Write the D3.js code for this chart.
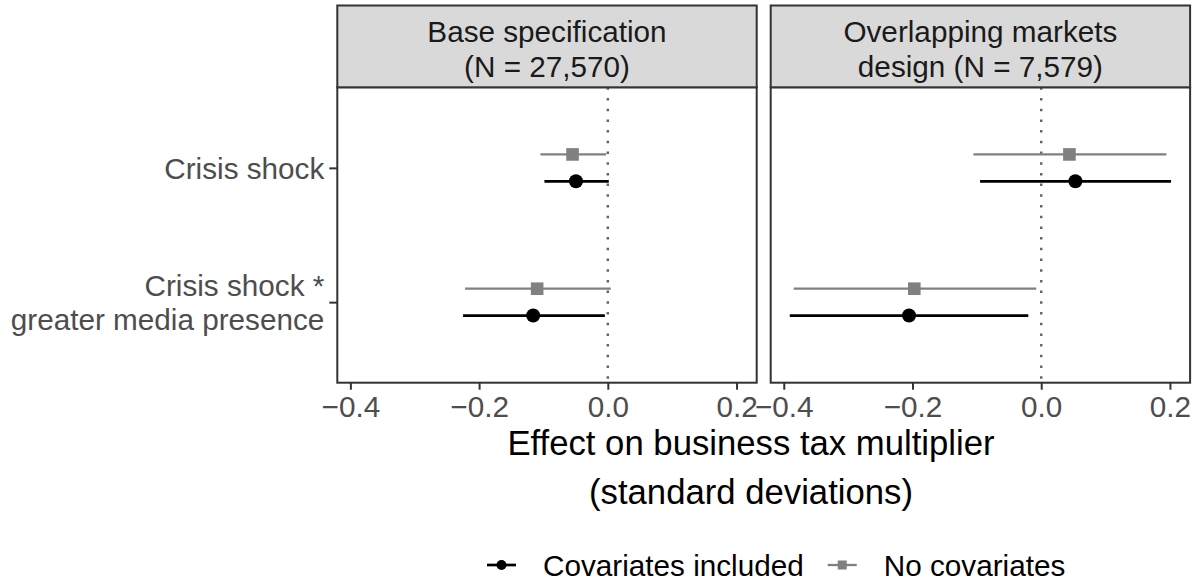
<!DOCTYPE html>
<html>
<head>
<meta charset="utf-8">
<script src="https://cdn.jsdelivr.net/npm/d3@7/dist/d3.min.js"></script>
<style>
  html, body { margin: 0; padding: 0; background: #ffffff; }
  svg { display: block; font-family: "Liberation Sans", Arial, sans-serif; }
</style>
</head>
<body>
<svg id="chart" width="1201" height="584"></svg>
<script>
// Facet panels and the coefficient rows shown in each
const panels = ["Base specification\n(N = 27,570)", "Overlapping markets\ndesign (N = 7,579)"];
const categories = ["Crisis shock", "Crisis shock *\ngreater media presence"];
const seriesNames = ["Covariates included", "No covariates"];

// Point estimates and interval bounds, indexed [panel][category]
const covEst = [[-0.0495, -0.1160], [0.0531, -0.2054]];
const covLo  = [[-0.0985, -0.2249], [-0.0950, -0.3907]];
const covHi  = [[0.0015, -0.0046], [0.2017, -0.0201]];
const noCovEst = [[-0.0548, -0.1098], [0.0438, -0.1972]];
const noCovLo  = [[-0.1047, -0.2218], [-0.1053, -0.3845]];
const noCovHi  = [[-0.0026, 0.0046], [0.1945, -0.0077]];

const xTicks = [-0.4, -0.2, 0.0, 0.2];
const xTitle = "Effect on business tax multiplier\n(standard deviations)";

// Layout
const panelLeft = [337.3, 770.7];
const panelWidth = 419.4;
const stripTop = 5.5, panelTop = 87.3, panelBottom = 382.7;
const smallFont = 29.7, titleFont = 34.7;

const colors = { "Covariates included": "#000000", "No covariates": "#808080" };

const svg = d3.select("#chart");

// Long-format rows
const rows = [];
panels.forEach((p, pi) => {
  categories.forEach((c, ci) => {
    rows.push({ panel: pi, category: c, series: seriesNames[0], est: covEst[pi][ci], lo: covLo[pi][ci], hi: covHi[pi][ci] });
    rows.push({ panel: pi, category: c, series: seriesNames[1], est: noCovEst[pi][ci], lo: noCovLo[pi][ci], hi: noCovHi[pi][ci] });
  });
});

// Shared x domain with 5% padding on each side
const xmin = d3.min(rows, d => d.lo), xmax = d3.max(rows, d => d.hi);
const pad = (xmax - xmin) * 0.05;
const xDomain = [xmin - pad, xmax + pad];

// Categories listed top to bottom
const y = d3.scalePoint()
  .domain(categories)
  .range([panelTop, panelBottom])
  .padding(0.6);
const dodge = y.step() * 0.1;
const dodgeOffset = { "No covariates": -dodge, "Covariates included": dodge };

function multiline(sel, text, lineGap) {
  const lines = text.split("\n");
  lines.forEach((ln, i) => {
    sel.append("tspan").attr("x", sel.attr("x")).attr("dy", i === 0 ? 0 : lineGap).text(ln);
  });
}

panels.forEach((p, pi) => {
  const x = d3.scaleLinear().domain(xDomain).range([panelLeft[pi], panelLeft[pi] + panelWidth]);
  const g = svg.append("g");

  // Panel background
  g.append("rect")
    .attr("x", panelLeft[pi]).attr("y", panelTop)
    .attr("width", panelWidth).attr("height", panelBottom - panelTop)
    .attr("fill", "#ffffff");

  // Zero reference line
  g.append("line")
    .attr("x1", x(0)).attr("x2", x(0))
    .attr("y1", panelTop).attr("y2", panelBottom)
    .attr("stroke", "#666666").attr("stroke-width", 2.5)
    .attr("stroke-dasharray", "2.5 8.2");

  const pr = rows.filter(d => d.panel === pi);

  // Interval lines
  g.selectAll("line.ci").data(pr).join("line")
    .attr("class", "ci")
    .attr("x1", d => x(d.lo)).attr("x2", d => x(d.hi))
    .attr("y1", d => y(d.category) + dodgeOffset[d.series])
    .attr("y2", d => y(d.category) + dodgeOffset[d.series])
    .attr("stroke", d => colors[d.series])
    .attr("stroke-width", d => d.series === "No covariates" ? 2.3 : 2.7);

  // Estimates: circles for covariate models, squares otherwise
  g.selectAll("circle.est").data(pr.filter(d => d.series === "Covariates included")).join("circle")
    .attr("class", "est")
    .attr("cx", d => x(d.est)).attr("cy", d => y(d.category) + dodgeOffset[d.series])
    .attr("r", 7).attr("fill", colors["Covariates included"]);
  const sq = 12.6;
  g.selectAll("rect.est").data(pr.filter(d => d.series === "No covariates")).join("rect")
    .attr("class", "est")
    .attr("x", d => x(d.est) - sq / 2).attr("y", d => y(d.category) + dodgeOffset[d.series] - sq / 2)
    .attr("width", sq).attr("height", sq).attr("fill", colors["No covariates"]);

  // Panel border
  g.append("rect")
    .attr("x", panelLeft[pi]).attr("y", panelTop)
    .attr("width", panelWidth).attr("height", panelBottom - panelTop)
    .attr("fill", "none").attr("stroke", "#333333").attr("stroke-width", 2);

  // Strip
  g.append("rect")
    .attr("x", panelLeft[pi]).attr("y", stripTop)
    .attr("width", panelWidth).attr("height", panelTop - stripTop)
    .attr("fill", "#D9D9D9").attr("stroke", "#333333").attr("stroke-width", 2);
  const st = g.append("text")
    .attr("x", panelLeft[pi] + panelWidth / 2).attr("y", 41.5)
    .attr("text-anchor", "middle").attr("font-size", smallFont).attr("fill", "#1A1A1A");
  multiline(st, p, 35);

  // X axis
  const xa = g.append("g").attr("transform", `translate(0,${panelBottom})`)
    .call(d3.axisBottom(x).tickValues(xTicks).tickFormat(d3.format(".1f")).tickSize(7).tickSizeOuter(0));
  xa.select(".domain").remove();
  xa.selectAll(".tick line").attr("stroke", "#333333").attr("stroke-width", 2);
  xa.selectAll(".tick text")
    .attr("y", 34.5).attr("dy", 0)
    .attr("font-size", smallFont).attr("fill", "#4D4D4D")
    .attr("font-family", "Liberation Sans, Arial, sans-serif");
});

// Y axis on the left panel
const ya = svg.append("g").attr("transform", `translate(${panelLeft[0]},0)`)
  .call(d3.axisLeft(y).tickSize(8).tickFormat(""));
ya.select(".domain").remove();
ya.selectAll(".tick line").attr("stroke", "#333333").attr("stroke-width", 2);
categories.forEach(c => {
  const lines = c.split("\n");
  const lineGap = 34;
  const base = y(c) + 11 - (lines.length - 1) * lineGap / 2;
  const t = svg.append("text")
    .attr("x", panelLeft[0] - 13).attr("y", base)
    .attr("text-anchor", "end").attr("font-size", smallFont).attr("fill", "#4D4D4D");
  multiline(t, c, lineGap);
});

// X axis title
const xt = svg.append("text")
  .attr("x", 751).attr("y", 455)
  .attr("text-anchor", "middle").attr("font-size", titleFont).attr("fill", "#000000");
multiline(xt, xTitle, 49);

// Legend
const legendY = 565;
let lx = 487;
seriesNames.forEach(s => {
  const g = svg.append("g");
  g.append("line").attr("x1", lx).attr("x2", lx + 29).attr("y1", legendY).attr("y2", legendY)
    .attr("stroke", colors[s]).attr("stroke-width", s === "No covariates" ? 2.3 : 2.7);
  if (s === "Covariates included") {
    g.append("circle").attr("cx", lx + 14.5).attr("cy", legendY).attr("r", 5).attr("fill", colors[s]);
  } else {
    g.append("rect").attr("x", lx + 14.5 - 4.5).attr("y", legendY - 4.5).attr("width", 9).attr("height", 9).attr("fill", colors[s]);
  }
  const t = g.append("text").attr("x", lx + 56).attr("y", legendY + 10.5)
    .attr("font-size", smallFont).attr("fill", "#000000").text(s);
  lx = lx + 56 + t.node().getComputedTextLength() + 24;
});
</script>
</body>
</html>
